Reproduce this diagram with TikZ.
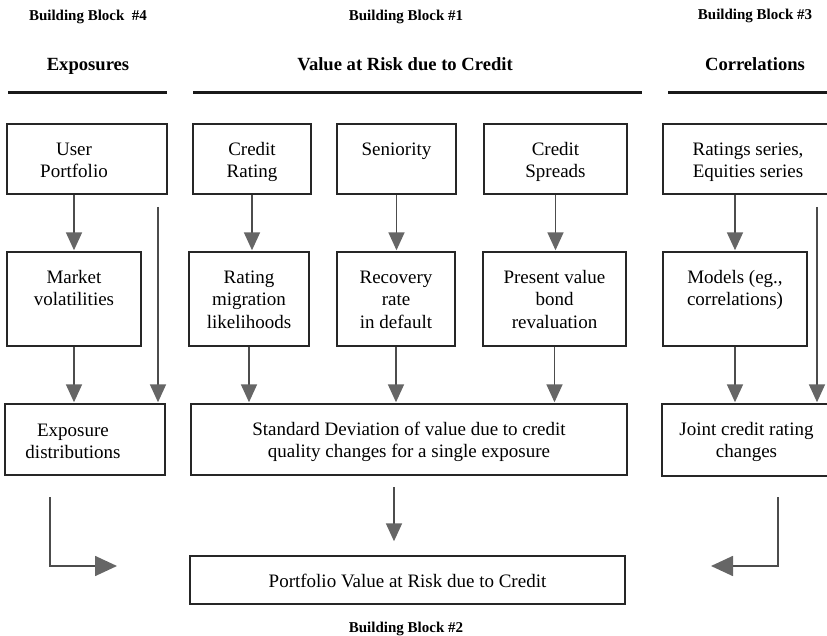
\documentclass[tikz,border=0pt]{standalone}
\usepackage{fontspec}
\setmainfont{Liberation Serif}
\usetikzlibrary{arrows.meta}
\usetikzlibrary{positioning}
\usetikzlibrary{fit}

% text lines hanging from the first baseline
\newcommand{\tlines}[1]{\begin{tabular}[t]{@{}c@{}}#1\end{tabular}}

\begin{document}
\begin{tikzpicture}[x=1pt, y=-1pt, >={Triangle[length=18pt,width=16pt]}]
    \tikzset{
        blk/.style={draw=black!85, line width=1.4pt, inner sep=0pt},
        txt/.style={anchor=base, inner sep=0pt,
            font=\fontsize{19}{22.5}\selectfont},
        head/.style={anchor=base, font=\fontsize{18.6}{22}\selectfont\bfseries},
        bblabel/.style={anchor=base, font=\fontsize{15}{18}\selectfont\bfseries},
        rule/.style={line width=3pt, black!90},
        flow/.style={->, line width=1.7pt, black!70, shorten >=1pt,
            >={Triangle[length=18pt,width=16pt,color=black!60]}},
        bigflow/.style={flow, >={Triangle[length=22pt,width=20pt,color=black!60]}}
    }
    \useasboundingbox (0,0) rectangle (827,636);
    \clip (0,0) rectangle (827,636);

    % headings
    \node[bblabel] (bb4) at (88,21) {Building Block~ \#4};
    \node[bblabel] (bb1) at (406,21) {Building Block \#1};
    \node[bblabel] (bb3) at (755,20) {Building Block \#3};
    \node[bblabel] (bb2) at (406,632) {Building Block \#2};

    \node[head] (hexp) at (88,71) {Exposures};
    \node[head] (hvar) at (405,71) {Value at Risk due to Credit};
    \node[head] (hcor) at (755,71) {Correlations};

    \draw[rule] (8,93) -- (167,93);
    \draw[rule] (193,93) -- (642,93);
    \draw[rule] (668,93) -- (840,93);

    % first row
    \node[blk, fit={(7,124) (167,194)}] (up) {};
    \node[blk, fit={(193,124) (311,194)}] (cr) {};
    \node[blk, fit={(337,124) (456,194)}] (sn) {};
    \node[blk, fit={(484,124) (627,194)}] (cs) {};
    \node[blk, fit={(663,124) (845,194)}] (rs) {};

    \node[txt, xshift=-13pt] (upt) at ([yshift=-32pt]up.north) {\tlines{User\\Portfolio}};
    \node[txt] (crt) at ([yshift=-32pt]cr.north) {\tlines{Credit\\Rating}};
    \node[txt] (snt) at ([yshift=-32pt]sn.north) {\tlines{Seniority}};
    \node[txt] (cst) at ([yshift=-32pt]cs.north) {\tlines{Credit\\Spreads}};
    \node[txt, xshift=-6pt] (rst) at ([yshift=-32pt]rs.north) {\tlines{Ratings series,\\Equities series}};

    % second row
    \node[blk, fit={(7,252) (141,346)}] (mv) {};
    \node[blk, fit={(189,252) (309,346)}] (rm) {};
    \node[blk, fit={(337,252) (455,346)}] (rr) {};
    \node[blk, fit={(483,252) (626,346)}] (pv) {};
    \node[blk, fit={(663,252) (807,346)}] (md) {};

    \node[txt] (mvt) at ([yshift=-32pt]mv.north) {\tlines{Market\\volatilities}};
    \node[txt] (rmt) at ([yshift=-32pt]rm.north) {\tlines{Rating\\migration\\likelihoods}};
    \node[txt] (rrt) at ([yshift=-32pt]rr.north) {\tlines{Recovery\\rate\\in default}};
    \node[txt] (pvt) at ([yshift=-32pt]pv.north) {\tlines{Present value\\bond\\revaluation}};
    \node[txt] (mdt) at ([yshift=-32pt]md.north) {\tlines{Models (eg.,\\correlations)}};

    % third row
    \node[blk, fit={(5,404) (165,475)}] (ed) {};
    \node[blk, fit={(191,404) (627,475)}] (sd) {};
    \node[blk, fit={(662,404) (845,476)}] (jc) {};
    \node[blk, fit={(190,556) (625,604)}] (pf) {};

    \node[txt, xshift=-12pt] (edt) at ([yshift=-33pt]ed.north) {\tlines{Exposure\\distributions}};
    \node[txt] (sdt) at ([yshift=-32pt]sd.north) {\tlines{Standard Deviation of value due to credit\\quality changes for a single exposure}};
    \node[txt, xshift=-7pt] (jct) at ([yshift=-32pt]jc.north) {\tlines{Joint credit rating\\changes}};
    \node[txt] (pft) at ([yshift=-32pt]pf.north) {Portfolio Value at Risk due to Credit};

    % arrows between rows
    \draw[flow] (mv.north |- up.south) -- (mv.north);
    \draw[flow] (cr.south) -- (cr.south |- rm.north);
    \draw[flow] (sn.south) -- (sn.south |- rr.north);
    \draw[flow] (cs.south) -- (cs.south |- pv.north);
    \draw[flow] (md.north |- rs.south) -- (md.north);

    \draw[flow] (mv.south) -- (mv.south |- ed.north);
    \draw[flow] (rm.south) -- (rm.south |- sd.north);
    \draw[flow] (rr.south) -- (rr.south |- sd.north);
    \draw[flow] (pv.south) -- (pv.south |- sd.north);
    \draw[flow] (md.south) -- (md.south |- jc.north);

    % long arrows
    \coordinate (lt) at (158,207);
    \coordinate (rt) at (817,207);
    \draw[flow] (lt) -- (lt |- ed.north);
    \draw[flow] (rt) -- (rt |- jc.north);

    \coordinate (dn) at (394,487);
    \draw[flow, shorten >=14pt] (dn) -- (dn |- pf.north);

    % into the portfolio
    \coordinate (la) at (50,497);
    \coordinate (lb) at (118,566);
    \coordinate (ra) at (778,497);
    \coordinate (rb) at (710,566);
    \draw[bigflow] (la) |- (lb);
    \draw[bigflow] (ra) |- (rb);

\end{tikzpicture}
\end{document}
